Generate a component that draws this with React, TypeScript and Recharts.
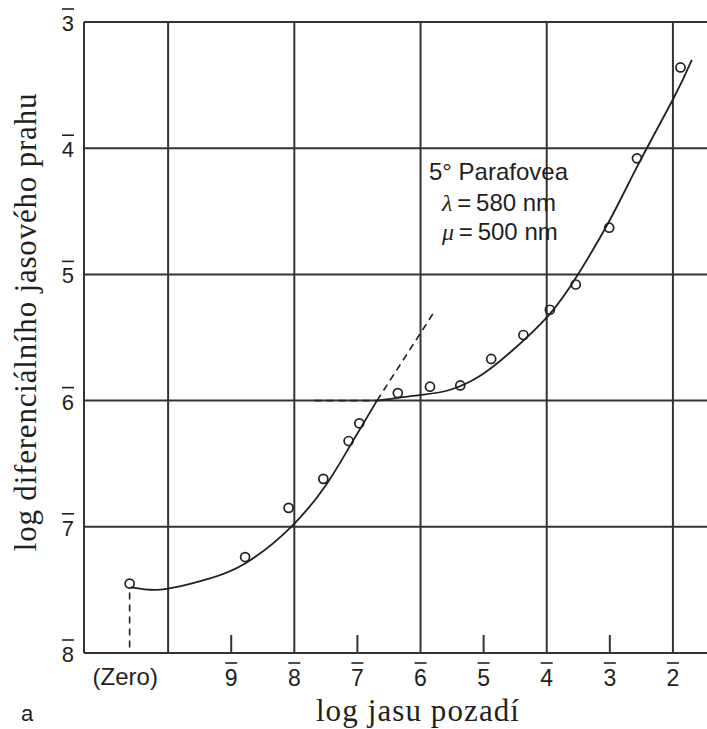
import React from 'react';
import { ComposedChart, Line, Scatter, XAxis, YAxis, ReferenceLine } from 'recharts';

// x = log background luminance (9̄ -> -9), y = log increment threshold (3̄ -> -3)
const X_MIN = -11.333;
const X_MAX = -1.46;
const ZERO_X = -10.6;

const xTicks = [ZERO_X, -9, -8, -7, -6, -5, -4, -3, -2];
const minorX = [-9, -7, -5, -3];
const majorX = [-10, -8, -6, -4, -2];
const yTicks = [-8, -7, -6, -5, -4, -3];
const gridY = [-7, -6, -5, -4, -3];

// measured points (open circles)
const pointX = [-10.61, -8.78, -8.09, -7.54, -7.14, -6.97, -6.36, -5.85, -5.37, -4.88, -4.37, -3.95, -3.54, -3.01, -2.57, -1.88];
const pointY = [-7.45, -7.24, -6.85, -6.62, -6.32, -6.18, -5.94, -5.89, -5.88, -5.67, -5.48, -5.28, -5.08, -4.63, -4.08, -3.36];

// fitted curves: rod branch and cone branch
const rodX = [-10.59, -10.2, -9.8, -9.35, -8.78, -8.05, -7.5, -7.13, -6.69];
const rodY = [-7.48, -7.5, -7.47, -7.41, -7.29, -7.0, -6.67, -6.37, -6.0];
const coneX = [-6.69, -6.02, -5.54, -5.06, -4.59, -3.98, -3.51, -3.0, -2.52, -1.98, -1.7];
const coneY = [-6.0, -5.956, -5.916, -5.805, -5.623, -5.33, -5.005, -4.569, -4.101, -3.594, -3.3];

// dashed guides
const zeroGuideX = [-10.61, -10.61];
const zeroGuideY = [-7.52, -8];
const plateauX = [-7.68, -6.69];
const plateauY = [-6, -6];
const rodExtX = [-6.69, -5.8];
const rodExtY = [-6, -5.31];

const zip = (xs: number[], ys: number[]) => xs.map((x, i) => ({ x, y: ys[i] }));

const points = zip(pointX, pointY);
const rod = zip(rodX, rodY);
const cone = zip(coneX, coneY);
const zeroGuide = zip(zeroGuideX, zeroGuideY);
const plateau = zip(plateauX, plateauY);
const rodExt = zip(rodExtX, rodExtY);

const INK = '#231f20';
const GRID = '#333';
const SANS = '"Liberation Sans", Arial, sans-serif';
const SERIF = '"Liberation Serif", "Times New Roman", serif';

function BottomTick(props: any) {
  const { x, y, payload } = props;
  const v = payload.value;
  if (v === ZERO_X) {
    return (
      <text x={x - 5} y={y + 32} textAnchor="middle" fontFamily={SANS} fontSize={24} fill={INK}>
        (Zero)
      </text>
    );
  }
  return (
    <g>
      {minorX.includes(v) && <line x1={x} x2={x} y1={y} y2={y - 18} stroke={GRID} strokeWidth={2} />}
      <line x1={x - 6} x2={x + 6} y1={y + 10} y2={y + 10} stroke={INK} strokeWidth={1.6} />
      <text x={x} y={y + 33} textAnchor="middle" fontFamily={SANS} fontSize={23} fill={INK}>
        {-v}
      </text>
    </g>
  );
}

function TopTick(props: any) {
  const { x, y } = props;
  return <line x1={x} x2={x} y1={y} y2={y + 18} stroke={GRID} strokeWidth={2} />;
}

function LeftTick(props: any) {
  const { x, y, payload } = props;
  const tx = x - 10;
  return (
    <g>
      <line x1={tx - 12} x2={tx} y1={y - 13} y2={y - 13} stroke={INK} strokeWidth={1.6} />
      <text x={tx} y={y + 9} textAnchor="end" fontFamily={SANS} fontSize={22} fill={INK}>
        {-payload.value}
      </text>
    </g>
  );
}

function OpenCircle(props: any) {
  const { cx, cy } = props;
  return <circle cx={cx} cy={cy} r={4.5} fill="none" stroke={INK} strokeWidth={1.7} />;
}

export default function App() {
  return (
    <div style={{ position: 'absolute', left: 0, top: 0, width: 707, height: 729, background: '#fff' }}>
      <ComposedChart width={707} height={729} margin={{ top: 22, right: 0, bottom: 0, left: 0 }}>
        <XAxis
          dataKey="x"
          type="number"
          domain={[X_MIN, X_MAX]}
          ticks={xTicks}
          interval={0}
          height={76}
          tickSize={0}
          tickMargin={0}
          tick={<BottomTick />}
          axisLine={{ stroke: GRID, strokeWidth: 2 }}
        />
        <XAxis
          xAxisId="top"
          orientation="top"
          type="number"
          domain={[X_MIN, X_MAX]}
          ticks={minorX}
          interval={0}
          height={0}
          tickSize={0}
          tickMargin={0}
          tick={<TopTick />}
          axisLine={false}
        />
        <YAxis
          dataKey="y"
          type="number"
          domain={[-8, -3]}
          ticks={yTicks}
          interval={0}
          width={84}
          tickSize={0}
          tickMargin={0}
          tick={<LeftTick />}
          axisLine={{ stroke: GRID, strokeWidth: 2 }}
        />
        {majorX.map((v) => (
          <ReferenceLine key={'vx' + v} x={v} stroke={GRID} strokeWidth={2} />
        ))}
        {gridY.map((v) => (
          <ReferenceLine key={'hy' + v} y={v} stroke={GRID} strokeWidth={2} />
        ))}
        <Line data={zeroGuide} dataKey="y" type="linear" stroke={INK} strokeWidth={1.6} strokeDasharray="7 5" dot={false} isAnimationActive={false} />
        <Line data={plateau} dataKey="y" type="linear" stroke={INK} strokeWidth={1.6} strokeDasharray="7 5" dot={false} isAnimationActive={false} />
        <Line data={rodExt} dataKey="y" type="linear" stroke={INK} strokeWidth={1.6} strokeDasharray="7 5" dot={false} isAnimationActive={false} />
        <Line data={rod} dataKey="y" type="natural" stroke={INK} strokeWidth={1.8} dot={false} isAnimationActive={false} />
        <Line data={cone} dataKey="y" type="natural" stroke={INK} strokeWidth={1.8} dot={false} isAnimationActive={false} />
        <Scatter data={points} dataKey="y" shape={<OpenCircle />} isAnimationActive={false} />
      </ComposedChart>
      <svg width={707} height={729} style={{ position: 'absolute', left: 0, top: 0, pointerEvents: 'none' }}>
        <text x={429} y={180} fontFamily={SANS} fontSize={24} fill={INK}>5° Parafovea</text>
        <text x={442} y={211} fontFamily={SANS} fontSize={24} fill={INK}>
          <tspan fontFamily={SERIF} fontStyle="italic">λ</tspan>{'\u2009=\u2009580 nm'}
        </text>
        <text x={442} y={240} fontFamily={SANS} fontSize={24} fill={INK}>
          <tspan fontFamily={SERIF} fontStyle="italic">μ</tspan>{'\u2009=\u2009500 nm'}
        </text>
        <text x={21} y={721} fontFamily={SANS} fontSize={22} fill={INK}>a</text>
        <text x={418} y={721} textAnchor="middle" fontFamily={SERIF} fontSize={31} letterSpacing={1.1} fill={INK}>
          log jasu pozadí
        </text>
        <text
          x={0}
          y={0}
          transform="translate(36,322) rotate(-90)"
          textAnchor="middle"
          fontFamily={SERIF}
          fontSize={31}
          letterSpacing={0.8}
          fill={INK}
        >
          log diferenciálního jasového prahu
        </text>
      </svg>
    </div>
  );
}
